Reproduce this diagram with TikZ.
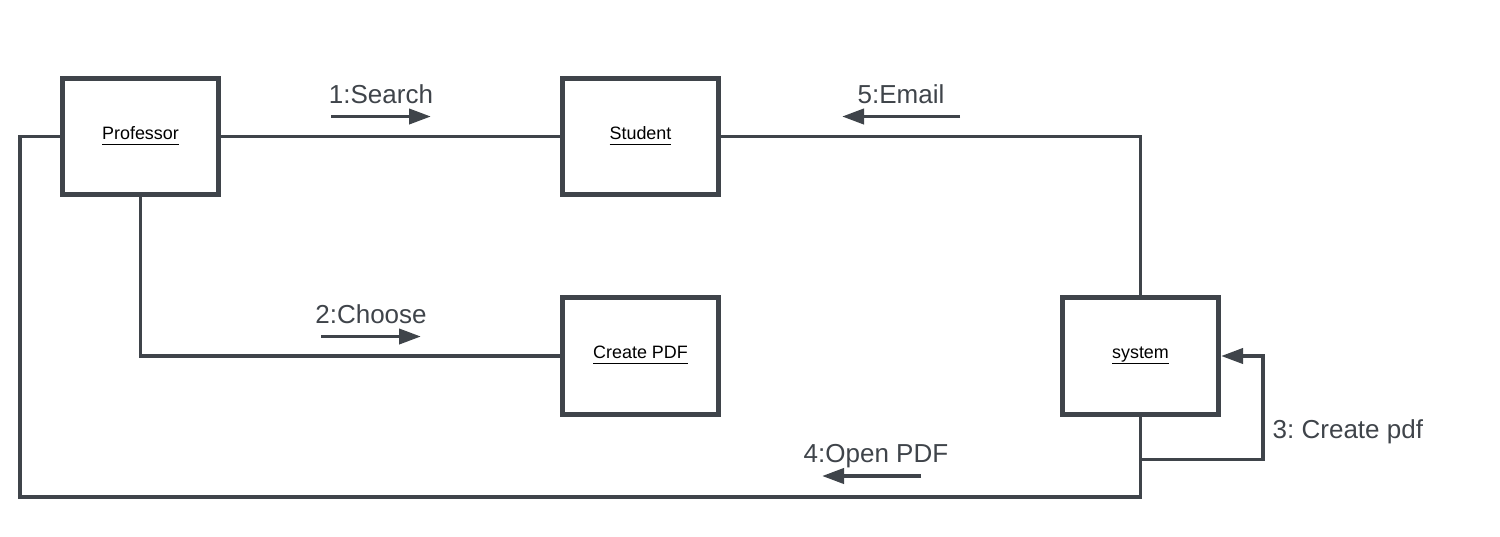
\documentclass[tikz,border=0pt]{standalone}
\usepackage{fontspec}
\setmainfont{Liberation Sans}
\usetikzlibrary{arrows.meta, positioning}
\definecolor{linegray}{HTML}{3F444A}
\newcommand{\objname}[1]{\underline{\raisebox{0pt}[\height][0pt]{#1}}}
\tikzset{
    obj/.style={draw=linegray, line width=1.3pt, fill=white, inner sep=0pt,
        minimum width=1.565cm, minimum height=1.165cm, font=\fontsize{5.1}{6}\selectfont},
    link/.style={linegray, line width=1.1pt},
    msg/.style={linegray, line width=1.1pt, -{Triangle[length=0.22cm,width=0.15cm]}},
    msgtext/.style={text=linegray, anchor=base, inner sep=0pt, font=\fontsize{7.4}{9}\selectfont}
}

\begin{document}
\begin{tikzpicture}
            \useasboundingbox (0,0) rectangle (15,-5.36);
            % objects
            \node[obj] (prof) at (1.405,-1.365) {\objname{Professor}};
            \node[obj] (stud) at (6.405,-1.365) {\objname{Student}};
            \node[obj] (pdf) at (6.405,-3.56) {\objname{Create PDF}};
            \node[obj] (sys) at (11.405,-3.56) {\objname{system}};
            \coordinate (lowleft) at (0.20,-4.97);
            \path (sys.south) ++(0,-0.43) coordinate (loopstart);
            \coordinate (loopcorner) at (12.63,-3.56);
            % links
            \draw[link] (prof) -- (stud);
            \draw[link] (stud) -| (sys);
            \draw[link] (prof) |- (pdf);
            \draw[link] (prof.west) -| (lowleft) -| (sys.south);
            \draw[msg] (loopstart) -| (loopcorner) -- (sys.east);
            % messages
            \node[msgtext] (search) at (3.81,-1.03) {1:Search};
            \draw[msg] (3.31,-1.165) -- (4.31,-1.165);
            \node[msgtext] (choose) at (3.71,-3.23) {2:Choose};
            \draw[msg] (3.21,-3.365) -- (4.21,-3.365);
            \node[msgtext, anchor=base west] (create) at (12.72,-4.38) {3:\ Create pdf};
            \node[msgtext] (open) at (8.76,-4.62) {4:Open PDF};
            \draw[msg] (9.21,-4.76) -- (8.22,-4.76);
            \node[msgtext] (email) at (9.01,-1.03) {5:Email};
            \draw[msg] (9.60,-1.165) -- (8.42,-1.165);
        \end{tikzpicture}
\end{document}
